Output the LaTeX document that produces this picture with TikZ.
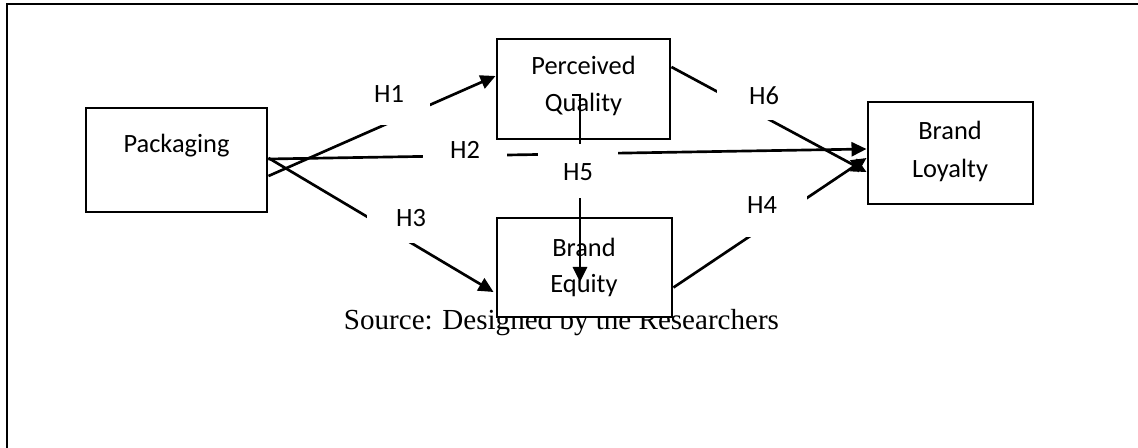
\documentclass[tikz,border=0pt]{standalone}
\usepackage{fontspec}
\setmainfont{Liberation Serif}
\newfontfamily\calfont{Carlito}
\usetikzlibrary{arrows.meta,calc}
\begin{document}
\begin{tikzpicture}[x=0.75pt,y=-0.75pt,
  boxnode/.style={draw, fill=white, line width=2.2pt, inner sep=0pt},
  boxtext/.style={font=\calfont\fontsize{19.8pt}{23pt}\selectfont, anchor=base, inner sep=0pt},
  conn/.style={line width=2pt, -{Triangle[length=11.25pt,width=10.5pt]}},
  hlabel/.style={fill=white, inner sep=0pt, anchor=base, font=\calfont\fontsize{19.8pt}{23pt}\selectfont}]
\useasboundingbox (0,0) rectangle (1138,448);
% frame
\draw[line width=1.6pt] (7,470) -- (7,4) -- (1160,4);
% source text
\node[font=\fontsize{21.8pt}{26pt}\selectfont, anchor=base, inner sep=0pt] (src) at (561.5,330) {Source: Designed by the Researchers};
% boxes
\node[boxnode, minimum width=135.75pt, minimum height=78pt] (pack) at (176.5,160) {};
\node[boxnode, minimum width=129.75pt, minimum height=75pt] (pq) at (583.5,89) {};
\node[boxnode, minimum width=131.25pt, minimum height=74.25pt] (be) at (584.5,267.5) {};
\node[boxnode, minimum width=123.75pt, minimum height=76.5pt] (bl) at (950.5,153) {};
% box texts
\node[boxtext] (packt) at (176.5,153) {Packaging};
\node[boxtext] (pqt1) at (583.5,75) {Perceived};
\node[boxtext] (pqt2) at (583.5,112) {Quality};
\node[boxtext] (bet1) at (584,257) {Brand};
\node[boxtext] (bet2) at (584,293) {Equity};
\node[boxtext] (blt1) at (950,140) {Brand};
\node[boxtext] (blt2) at (950,178) {Loyalty};
% connectors
\draw[conn] ($(pack.east)+(0,16)$) -- ($(pq.west)+(0,-13)$);
\draw[conn] ($(pack.east)+(0,-1)$) -- ($(bl.west)+(0,-4)$);
\draw[conn] ($(pack.east)+(0,-2)$) -- ($(be.west)+(-2,24.5)$);
\draw[conn] ($(be.east)+(0,20)$) -- ($(bl.west)+(0,5)$);
\draw[conn] ($(pq.east)+(0,-22)$) -- ($(bl.west)+(0,19)$);
\coordinate (h5s) at ($(pq.center)+(-11.5,6)$);
\draw[conn] (h5s) -- ++(8,0) -- ($(be.center)+(-4.5,14.5)$);
% hypothesis labels
\node[hlabel, minimum width=61.5pt, text height=17.25pt, text depth=16.5pt] (h1) at (389,103) {H1};
\node[hlabel, minimum width=63pt, text height=12.75pt, text depth=8.25pt] (h2) at (465,159) {H2};
\node[hlabel, minimum width=60pt, text height=27.75pt, text depth=12.75pt] (h5) at (578,181) {H5};
\node[hlabel, minimum width=66pt, text height=20.25pt, text depth=12pt] (h3) at (411,227) {H3};
\node[hlabel, minimum width=70.5pt, text height=18.75pt, text depth=11.25pt] (h6) at (764,105) {H6};
\node[hlabel, minimum width=67.5pt, text height=25.5pt, text depth=17.25pt] (h4) at (762,214) {H4};
\end{tikzpicture}
\end{document}
